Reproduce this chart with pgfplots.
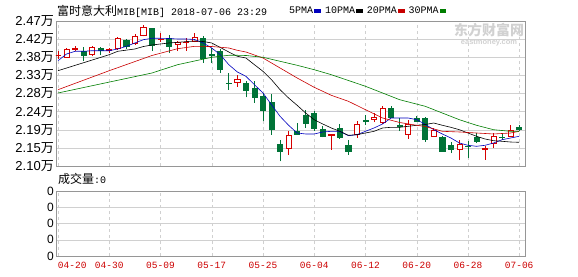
\documentclass[border=0pt]{standalone}
\usepackage{pgfplots}
\pgfplotsset{compat=1.18}
\usepackage{fontspec}
\setmainfont{Liberation Sans}
\newfontfamily\cjk{Noto Sans CJK SC}
\newfontfamily\mono{Liberation Mono}
\definecolor{upred}{RGB}{214,0,0}
\definecolor{dngreen}{RGB}{0,115,55}
\definecolor{maBlue}{RGB}{0,0,190}
\definecolor{maRed}{RGB}{200,0,0}
\definecolor{maGreen}{RGB}{0,125,0}
\definecolor{gridc}{RGB}{208,208,208}
\definecolor{framec}{RGB}{150,150,150}
\definecolor{labred}{RGB}{204,0,0}
\newcommand{\wan}{{\cjk 万}}
% red (up) candle: i, open, close, high, low
\newcommand{\rc}[5]{%
  \pgfmathsetmacro\xl{#1-0.3}\pgfmathsetmacro\xr{#1+0.3}%
  \addplot[upred, line width=0.7pt, forget plot] coordinates {(#1,#5)(#1,#4)};
  \addplot[upred, fill=white, line width=0.7pt, forget plot]
    coordinates {(\xl,#2)(\xr,#2)(\xr,#3)(\xl,#3)} --cycle;}
% green (down) candle: i, open, close, high, low
\newcommand{\gc}[5]{%
  \pgfmathsetmacro\xl{#1-0.3}\pgfmathsetmacro\xr{#1+0.3}%
  \addplot[dngreen, line width=0.7pt, forget plot] coordinates {(#1,#5)(#1,#4)};
  \addplot[dngreen, fill=dngreen, line width=0.7pt, forget plot]
    coordinates {(\xl,#2)(\xr,#2)(\xr,#3)(\xl,#3)} --cycle;}
\begin{document}
\begin{tikzpicture}
\path[use as bounding box] (0,0) rectangle (578pt,276pt);
\begin{axis}[
  at={(56pt,110pt)}, anchor=south west, scale only axis,
  width=469pt, height=145pt,
  xmin=-0.234, xmax=54.68, ymin=2.10, ymax=2.47,
  xtick={0,6,...,54}, xticklabels={},
  ytick={2.10,2.14625,2.1925,2.23875,2.285,2.33125,2.3775,2.42375,2.47},
  yticklabels={2.10\wan,2.15\wan,2.19\wan,2.24\wan,2.28\wan,2.33\wan,2.38\wan,2.42\wan,2.47\wan},
  yticklabel style={font=\fontsize{13}{13}\selectfont, inner xsep=2pt},
  major tick length=0pt,
  xmajorgrids, ymajorgrids,
  x grid style={gridc, dash pattern=on 3pt off 3pt},
  y grid style={gridc},
  axis line style={framec},
  legend style={draw=none, fill=none, at={(0.4947,1.069)}, anchor=west,
    legend columns=4, font=\mono\fontsize{10}{10}\selectfont,
    inner xsep=0pt, inner ysep=0pt, nodes={inner xsep=1pt},
    /tikz/every even column/.append style={column sep=3.5pt}},
  legend plot pos=right,
  legend image code/.code={\fill (0pt,-1.2pt) rectangle (5.7pt,1.2pt);},
]
\rc{0}{2.382}{2.383}{2.393}{2.374}
\rc{1}{2.377}{2.397}{2.400}{2.376}
\rc{2}{2.398}{2.400}{2.405}{2.393}
\gc{3}{2.393}{2.383}{2.403}{2.369}
\rc{4}{2.386}{2.403}{2.405}{2.380}
\gc{5}{2.399}{2.395}{2.403}{2.383}
\rc{6}{2.396}{2.397}{2.401}{2.388}
\rc{7}{2.401}{2.425}{2.428}{2.397}
\gc{8}{2.420}{2.405}{2.425}{2.399}
\rc{9}{2.414}{2.431}{2.437}{2.410}
\rc{10}{2.434}{2.454}{2.459}{2.431}
\gc{11}{2.450}{2.409}{2.452}{2.393}
\rc{12}{2.423}{2.424}{2.439}{2.416}
\gc{13}{2.425}{2.405}{2.435}{2.388}
\rc{14}{2.411}{2.416}{2.418}{2.393}
\rc{15}{2.415}{2.416}{2.427}{2.394}
\rc{16}{2.418}{2.429}{2.439}{2.416}
\gc{17}{2.425}{2.374}{2.431}{2.363}
\gc{18}{2.385}{2.382}{2.401}{2.363}
\gc{19}{2.392}{2.346}{2.399}{2.337}
\gc{20}{2.312}{2.310}{2.337}{2.294}
\rc{21}{2.313}{2.321}{2.332}{2.302}
\gc{22}{2.311}{2.293}{2.316}{2.275}
\gc{23}{2.299}{2.274}{2.316}{2.261}
\gc{24}{2.278}{2.241}{2.286}{2.214}
\gc{25}{2.263}{2.193}{2.284}{2.180}
\gc{26}{2.156}{2.138}{2.167}{2.112}
\rc{27}{2.146}{2.178}{2.189}{2.129}
\gc{28}{2.189}{2.182}{2.210}{2.180}
\gc{29}{2.228}{2.210}{2.244}{2.197}
\gc{30}{2.235}{2.197}{2.240}{2.189}
\gc{31}{2.193}{2.176}{2.202}{2.173}
\rc{32}{2.178}{2.180}{2.182}{2.142}
\gc{33}{2.195}{2.173}{2.207}{2.170}
\gc{34}{2.152}{2.138}{2.167}{2.129}
\rc{35}{2.180}{2.207}{2.216}{2.172}
\gc{36}{2.216}{2.215}{2.231}{2.204}
\rc{37}{2.218}{2.224}{2.235}{2.212}
\rc{38}{2.212}{2.248}{2.252}{2.207}
\gc{39}{2.248}{2.224}{2.253}{2.223}
\gc{40}{2.203}{2.202}{2.223}{2.189}
\rc{41}{2.180}{2.206}{2.218}{2.170}
\gc{42}{2.222}{2.214}{2.228}{2.212}
\gc{43}{2.221}{2.167}{2.226}{2.162}
\rc{44}{2.175}{2.190}{2.198}{2.174}
\gc{45}{2.173}{2.138}{2.177}{2.137}
\gc{46}{2.152}{2.142}{2.161}{2.133}
\rc{47}{2.142}{2.156}{2.167}{2.116}
\gc{48}{2.151}{2.149}{2.165}{2.120}
\gc{49}{2.172}{2.163}{2.184}{2.159}
\rc{50}{2.142}{2.144}{2.150}{2.116}
\rc{51}{2.159}{2.176}{2.184}{2.146}
\gc{52}{2.174}{2.172}{2.182}{2.166}
\rc{53}{2.176}{2.190}{2.204}{2.173}
\gc{54}{2.199}{2.193}{2.205}{2.189}
% 5PMA
\addplot[color=maBlue, line width=0.6pt, mark=none] coordinates {
(0,2.3687)(1,2.3858)(2,2.3927)(3,2.3927)(4,2.3942)(5,2.3942)(6,2.3942)(7,2.3986)
(8,2.4054)(9,2.4139)(10,2.4223)(11,2.4259)(12,2.4259)(13,2.4253)(14,2.4241)(15,2.4241)
(16,2.4228)(17,2.4139)(18,2.4011)(19,2.3840)(20,2.3585)(21,2.3399)(22,2.3289)(23,2.3075)
(24,2.2863)(25,2.2564)(26,2.2268)(27,2.2039)(28,2.1842)(29,2.1817)(30,2.1817)(31,2.1868)
(32,2.1885)(33,2.1885)(34,2.1773)(35,2.1799)(36,2.1885)(37,2.1970)(38,2.2072)(39,2.2225)
(40,2.2225)(41,2.2225)(42,2.2182)(43,2.2064)(44,2.1926)(45,2.1817)(46,2.1715)(47,2.1587)
(48,2.1528)(49,2.1503)(50,2.1528)(51,2.1587)(52,2.1671)(53,2.1715)(54,2.1758)};
\addlegendentry{5PMA}
% 10PMA
\addplot[color=black, line width=0.6pt, mark=none] coordinates {
(0,2.3432)(3,2.3636)(6,2.3840)(7,2.3927)(9,2.3986)(10,2.4049)(11,2.4088)(13,2.4139)
(16,2.4190)(17,2.4177)(18,2.4139)(19,2.4024)(20,2.3909)(21,2.3799)(22,2.3756)(23,2.3585)
(24,2.3416)(25,2.3202)(26,2.2947)(27,2.2735)(28,2.2549)(29,2.2352)(30,2.2181)(31,2.2072)
(32,2.1970)(33,2.1885)(34,2.1783)(35,2.1799)(36,2.1842)(37,2.1885)(38,2.1970)(39,2.1987)
(40,2.1987)(41,2.2013)(42,2.2039)(43,2.2059)(44,2.2097)(45,2.2039)(46,2.1987)(47,2.1926)
(48,2.1842)(49,2.1758)(50,2.1689)(51,2.1646)(52,2.1630)(53,2.1612)(54,2.1605)};
\addlegendentry{10PMA}
% 20PMA
\addplot[color=maRed, line width=0.6pt, mark=none] coordinates {
(0,2.2947)(6,2.3432)(11,2.3820)(14,2.3993)(16,2.4054)(18,2.4049)(20,2.4011)(21,2.3952)
(22,2.3909)(24,2.3756)(26,2.3501)(28,2.3246)(30,2.3008)(32,2.2804)(34,2.2651)(36,2.2437)
(38,2.2225)(40,2.2110)(42,2.2039)(43,2.2008)(45,2.1885)(47,2.1868)(49,2.1842)(51,2.1817)
(53,2.1842)(54,2.1885)};
\addlegendentry{20PMA}
% 30PMA
\addplot[color=maGreen, line width=0.6pt, mark=none] coordinates {
(0,2.2863)(5,2.3095)(11,2.3373)(14,2.3585)(18,2.3774)(20,2.3825)(21,2.3825)(22,2.3820)
(24,2.3774)(26,2.3672)(28,2.3570)(30,2.3457)(32,2.3330)(36,2.3034)(40,2.2692)(43,2.2523)
(45,2.2352)(47,2.2181)(49,2.2039)(51,2.1926)(53,2.1885)(54,2.1885)};
\addlegendentry{30PMA}
\end{axis}
% volume panel
\begin{axis}[
  at={(56pt,20pt)}, anchor=south west, scale only axis,
  width=469pt, height=65pt,
  xmin=-0.234, xmax=54.68, ymin=0, ymax=4,
  xtick={0,6,...,54},
  xticklabels={\makebox[0pt][l]{04-20},04-30,05-09,05-17,05-25,06-04,06-12,06-20,06-28,07-06},
  xticklabel style={labred, font=\mono\fontsize{9.5}{9.5}\selectfont, yshift=-3pt},
  ytick={0,1,2,3,4}, yticklabels={0,0,0,0,0},
  yticklabel style={font=\fontsize{12}{12}\selectfont, inner xsep=2pt},
  major tick length=0pt,
  xmajorgrids, ymajorgrids,
  x grid style={gridc, dash pattern=on 3pt off 3pt},
  y grid style={gridc},
  axis line style={framec},
]
\addplot[draw=none, mark=none, forget plot] coordinates {(0,0)(54,0)};
\end{axis}
% texts
\node[anchor=west, inner sep=0pt] at (57pt,265pt)
  {{\cjk\fontsize{12}{12}\selectfont 富时意大利}{\mono\fontsize{10}{10}\selectfont MIB[MIB] 2018-07-06 23:29}};
\node[anchor=west, inner sep=0pt] at (58pt,97pt)
  {{\cjk\fontsize{12}{12}\selectfont 成交量}{\mono\fontsize{10}{10}\selectfont :0}};
\node[anchor=center, inner sep=0pt, text=black!18] at (489pt,245.5pt)
  {\cjk\bfseries\fontsize{14}{14}\selectfont 东方财富网};
\node[anchor=center, inner sep=0pt, text=black!18] at (489pt,233pt)
  {\bfseries\fontsize{7.5}{7.5}\selectfont eastmoney.com};
\end{tikzpicture}
\end{document}
